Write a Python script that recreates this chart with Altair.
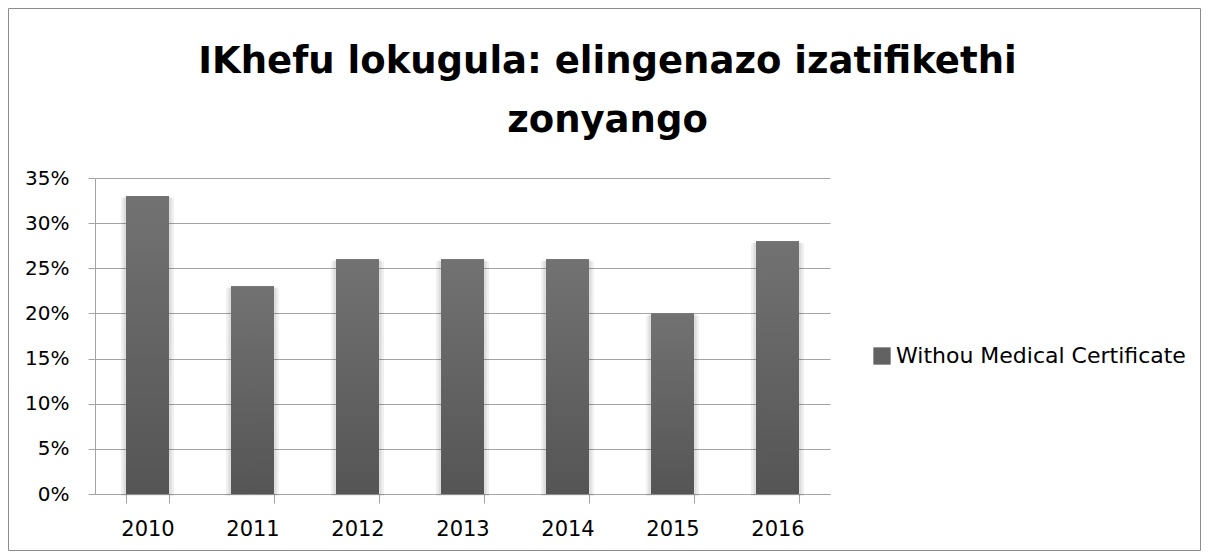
import altair as alt
import pandas as pd

years = ["2010", "2011", "2012", "2013", "2014", "2015", "2016"]
values = [0.33, 0.23, 0.26, 0.26, 0.26, 0.20, 0.28]
series = "Withou Medical Certificate"
title_lines = ["IKhefu lokugula: elingenazo izatifikethi", "zonyango"]
y_ticks = [0, 0.05, 0.10, 0.15, 0.20, 0.25, 0.30, 0.35]

df = pd.DataFrame({"year": years, "value": values, "series": [series] * len(years)})

FONT = "DejaVu Sans"
GRID = "#a3a3a3"

x_enc = alt.X("year:N", sort=years, title=None,
              scale=alt.Scale(paddingInner=0.59, paddingOuter=0.295),
              axis=alt.Axis(labelAngle=0, tickBand="extent", tickSize=9,
                            labelPadding=15, domainColor=GRID, tickColor=GRID,
                            labelFont=FONT, labelFontSize=21, labelColor="#000000",
                            grid=False))
y_enc = alt.Y("value:Q", title=None,
              scale=alt.Scale(domain=[0, 0.35], nice=False),
              axis=alt.Axis(values=y_ticks, format=".0%", tickSize=7,
                            labelPadding=19, domainColor=GRID, tickColor=GRID,
                            gridColor=GRID, labelFont=FONT, labelFontSize=20,
                            labelColor="#000000"))

gradient = alt.Gradient(
    gradient="linear", x1=0, y1=0, x2=0, y2=1,
    stops=[alt.GradientStop(offset=0, color="#727272"),
           alt.GradientStop(offset=1, color="#555555")])

base = alt.Chart(df)

shadow1 = base.mark_bar(color="#000000", opacity=0.06, size=53, yOffset=2, y2Offset=4).encode(
    x=x_enc, y=y_enc)
shadow2 = base.mark_bar(color="#000000", opacity=0.08, size=48, yOffset=1, y2Offset=2).encode(
    x=x_enc, y=y_enc)

legend_bars = base.mark_bar(size=43).encode(
    x=x_enc, y=y_enc,
    color=alt.Color("series:N", title=None,
                    scale=alt.Scale(domain=[series], range=["#626262"]),
                    legend=alt.Legend(orient="none", legendX=776, legendY=167,
                                      symbolType="square", symbolSize=300,
                                      symbolStrokeWidth=0, labelFont=FONT,
                                      labelFontSize=22, labelColor="#000000",
                                      labelOffset=3, labelLimit=400)))

bars = base.mark_bar(size=43, fill=gradient).encode(x=x_enc, y=y_enc)

frame = alt.Chart(pd.DataFrame({"a": [0]})).mark_rect(
    fill=None, stroke="#8c8c8c", strokeWidth=1).encode(
    x=alt.value(-86.5), x2=alt.value(1105.5),
    y=alt.value(-169.5), y2=alt.value(372.5))

chart = alt.layer(frame, shadow1, shadow2, legend_bars, bars).properties(
    width=735, height=316,
    autosize=alt.AutoSizeParams(type="none"),
    padding={"left": 87, "top": 170, "right": 371, "bottom": 57},
    title=alt.TitleParams(text=title_lines, font=FONT, fontSize=37,
                          fontWeight="bold", color="#000000",
                          anchor="middle", dx=145, dy=161, lineHeight=59,
                          baseline="alphabetic", offset=0),
).configure_view(stroke=None).configure_axis(gridWidth=1, domainWidth=1, tickWidth=1)

chart.save("out.html", embed_options={"renderer": "svg", "actions": False})
